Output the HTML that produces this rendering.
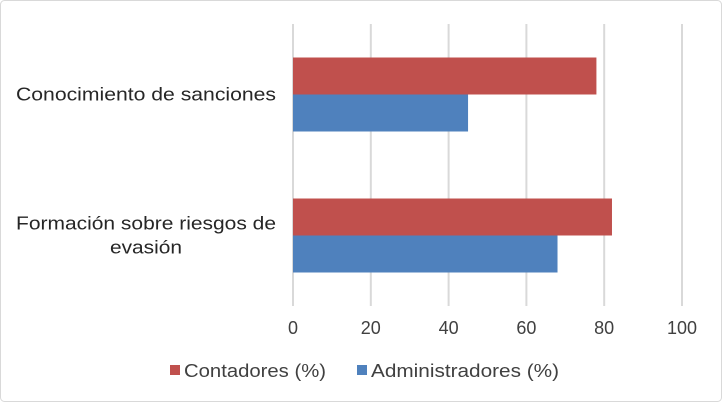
<!DOCTYPE html>
<html><head><meta charset="utf-8"><style>
body{margin:0;background:#fff;}
svg{display:block;font-family:"Liberation Sans",sans-serif;}
</style></head><body>
<svg id="c" width="722" height="402">
<rect x="0.5" y="0.5" width="721" height="401" rx="4" fill="#fff" stroke="#d9d9d9"/>
<g id="plot"></g>
</svg>
<script>
const categories=["Conocimiento de sanciones","Formación sobre riesgos de evasión"];
const contadores=[78,82];
const administradores=[45,68];
const ticks=[0,20,40,60,80,100];
const seriesNames=["Contadores (%)","Administradores (%)"];
const colors=["#c0504d","#4f81bd"];
const NS="http://www.w3.org/2000/svg";
const g=document.getElementById('plot');
const x0=293,x1=682,yTop=24,yBot=306;
const xs=v=>x0+(v/100)*(x1-x0);
const bandH=(yBot-yTop)/categories.length;
const barH=37;
function mk(t,a){const e=document.createElementNS(NS,t);for(const k in a)e.setAttribute(k,a[k]);g.appendChild(e);return e;}
ticks.forEach(t=>{
 const l=mk('line',{x1:xs(t),x2:xs(t),y1:yTop,y2:yBot,stroke:'#d9d9d9','stroke-width':2});
 
 
 const tx=mk('text',{x:xs(t),y:334,'text-anchor':'middle','font-size':18,fill:'#404040'});
 tx.textContent=t;
 
 
});
const labelLines=[["Conocimiento de sanciones"],["Formación sobre riesgos de","evasión"]];
const labelLens=[[260],[260,72]];
categories.forEach((c,i)=>{
 const mid=yTop+bandH*(i+0.5);
 const r=mk('rect',{x:xs(0),y:mid-barH,width:xs(contadores[i])-xs(0),height:barH,fill:colors[0]});
 
 
 const b=mk('rect',{x:xs(0),y:mid,width:xs(administradores[i])-xs(0),height:barH,fill:colors[1]});
 
 
 const lines=labelLines[i];
 lines.forEach((ln,j)=>{
  const t=mk('text',{x:146,y:mid+6+(j-(lines.length-1)/2)*24,'text-anchor':'middle','font-size':18,fill:'#262626',textLength:labelLens[i][j],lengthAdjust:'spacingAndGlyphs'});
  t.textContent=ln;
  
  
 });
});
const legX=[170,357];
const legLen=[142,188];
seriesNames.forEach((n,i)=>{
 const s=mk('rect',{x:legX[i],y:365,width:10,height:10,fill:colors[i]});
 
 
 const t=mk('text',{x:legX[i]+14,y:377,'font-size':18,fill:'#404040',textLength:legLen[i],lengthAdjust:'spacingAndGlyphs'});
 t.textContent=n;
 
 
});
</script>
</body></html>
